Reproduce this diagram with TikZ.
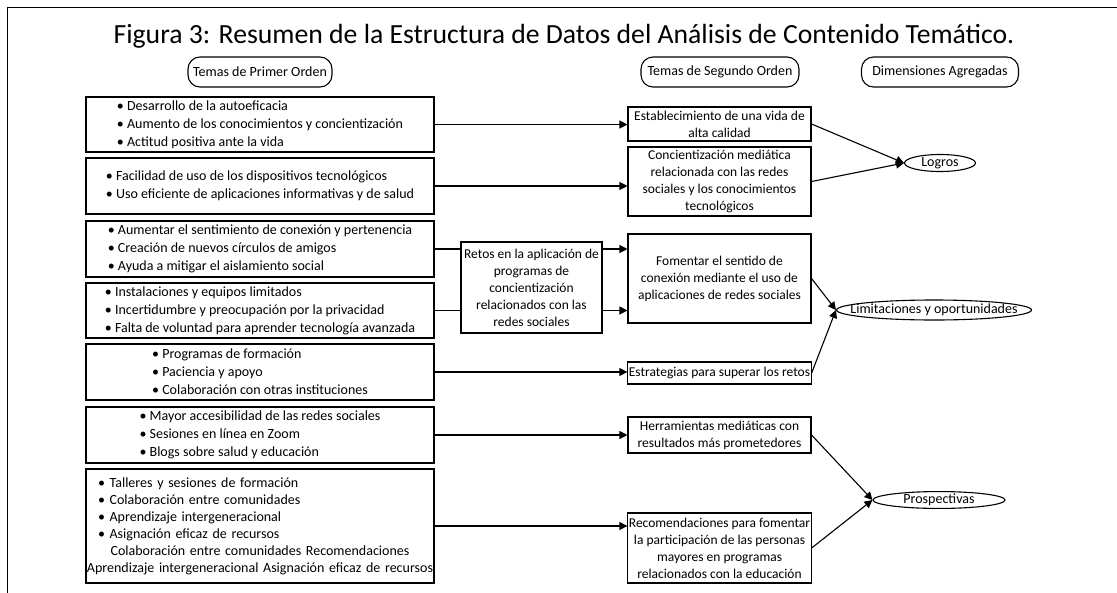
\documentclass[tikz,border=0pt]{standalone}
\usepackage{fontspec}
\setmainfont{Carlito}
\usetikzlibrary{shapes.geometric, arrows.meta}

\begin{document}
\begin{tikzpicture}[x=1pt, y=-1pt,
    firstbox/.style={draw, line width=1.1pt, minimum width=348pt, inner sep=2pt, align=left, font=\fontsize{14}{18}\selectfont},
    secbox/.style={draw, line width=1.1pt, minimum width=183pt, inner xsep=1pt, inner ysep=2pt, align=center, font=\fontsize{13.5}{17}\selectfont},
    headpill/.style={draw, line width=1.1pt, rounded corners=12pt, minimum height=30pt, font=\fontsize{14}{17}\selectfont},
    dimoval/.style={ellipse, draw, line width=1.1pt, inner sep=0pt, font=\fontsize{14}{17}\selectfont},
    link/.style={line width=1.1pt, -{Triangle[length=8pt, width=8pt]}},
    plain/.style={line width=1.1pt}]
        \useasboundingbox (0,0) rectangle (1117,592);

        % Frame and title
        \draw[line width=1.4pt] (7.5,600) -- (7.5,7.5) -- (1125,7.5);
        \node[font=\fontsize{27.7}{30}\selectfont, anchor=base] (title) at (564,43) {Figura 3: Resumen de la Estructura de Datos del Análisis de Contenido Temático.};

        % Column headers
        \node[headpill, minimum width=144pt] (h1) at (260,72) {Temas de Primer Orden};
        \node[headpill, minimum width=158pt] (h2) at (720,72) {Temas de Segundo Orden};
        \node[headpill, minimum width=157pt] (h3) at (940,72) {Dimensiones Agregadas};

        % First order themes
        \node[firstbox, minimum height=55pt] (t1) at (260,124.5) {• Desarrollo de la autoeficacia\\ • Aumento de los conocimientos y concientización\\ • Actitud positiva ante la vida};
        \node[firstbox, minimum height=56pt] (t2) at (260,186) {• Facilidad de uso de los dispositivos tecnológicos\\ • Uso eficiente de aplicaciones informativas y de salud};
        \node[firstbox, minimum height=56pt] (t3) at (260,249) {• Aumentar el sentimiento de conexión y pertenencia\\ • Creación de nuevos círculos de amigos\\ • Ayuda a mitigar el aislamiento social};
        \node[firstbox, minimum height=55pt] (t4) at (260,310.5) {• Instalaciones y equipos limitados\\ • Incertidumbre y preocupación por la privacidad\\ • Falta de voluntad para aprender tecnología avanzada};
        \node[firstbox, minimum height=56pt] (t5) at (260,372) {• Programas de formación\\ • Paciencia y apoyo\\ • Colaboración con otras instituciones};
        \node[firstbox, minimum height=56pt] (t6) at (260,435) {• Mayor accesibilidad de las redes sociales\\ • Sesiones en línea en Zoom\\ • Blogs sobre salud y educación};
        \node[firstbox, minimum height=114pt, text width=324pt, font=\fontsize{14}{17}\selectfont] (t7) at (260,526) {• Talleres y sesiones de formación\\ • Colaboración entre comunidades\\ • Aprendizaje intergeneracional\\ • Asignación eficaz de recursos\\ \makebox[324pt]{Colaboración entre comunidades Recomendaciones}\\ \makebox[324pt]{Aprendizaje intergeneracional Asignación eficaz de recursos}};

        % Middle box
        \node[secbox, minimum width=141pt, minimum height=91pt] (r) at (531.5,287.5) {Retos en la aplicación de\\ programas de\\ concientización\\ relacionados con las\\ redes sociales};

        % Second order themes
        \node[secbox, minimum height=34pt] (s1) at (719.5,124) {Establecimiento de una vida de\\ alta calidad};
        \node[secbox, minimum height=69pt] (s2) at (719.5,181.5) {Concientización mediática\\ relacionada con las redes\\ sociales y los conocimientos\\ tecnológicos};
        \node[secbox, minimum height=89pt] (s3) at (719.5,278.5) {Fomentar el sentido de\\ conexión mediante el uso de\\ aplicaciones de redes sociales};
        \node[secbox, minimum height=22pt] (s4) at (719.5,373) {Estrategias para superar los retos};
        \node[secbox, minimum height=36pt] (s5) at (719.5,435) {Herramientas mediáticas con\\ resultados más prometedores};
        \node[secbox, minimum height=70pt] (s6) at (719.5,548) {Recomendaciones para fomentar\\ la participación de las personas\\ mayores en programas\\ relacionados con la educación};

        % Aggregate dimensions
        \node[dimoval, minimum width=71pt, minimum height=17pt] (d1) at (940,163) {\makebox[0pt]{Logros}};
        \node[dimoval, minimum width=195pt, minimum height=20pt] (d2) at (934,310) {\makebox[0pt]{Limitaciones y oportunidades}};
        \node[dimoval, minimum width=132pt, minimum height=16pt] (d3) at (939,500) {\makebox[0pt]{Prospectivas}};

        % Edges
        \draw[link] (t1.east) -- (t1.east -| s1.west);
        \draw[link] (t2.east) -- (t2.east -| s2.west);
        \draw[plain] (t3.east) -- (t3.east -| r.west);
        \draw[plain] (t4.east) -- (t4.east -| r.west);
        \draw[link] (r.east |- t3.east) -- (s3.west |- t3.east);
        \draw[link] (r.east |- t4.east) -- (s3.west |- t4.east);
        \draw[link] (t5.east) -- (t5.east -| s4.west);
        \draw[link] (t6.east) -- (t6.east -| s5.west);
        \draw[link] (t7.east) -- (t7.east -| s6.west);
        \draw[link] (s1.east) -- (d1.west);
        \draw[link] (s2.east) -- (d1.west);
        \draw[link] (s3.east) -- (d2.west);
        \draw[link] (s4.east) -- (d2.west);
        \draw[link] (s5.east) -- (d3.west);
        \draw[link] (s6.east) -- (d3.west);
    \end{tikzpicture}
\end{document}
